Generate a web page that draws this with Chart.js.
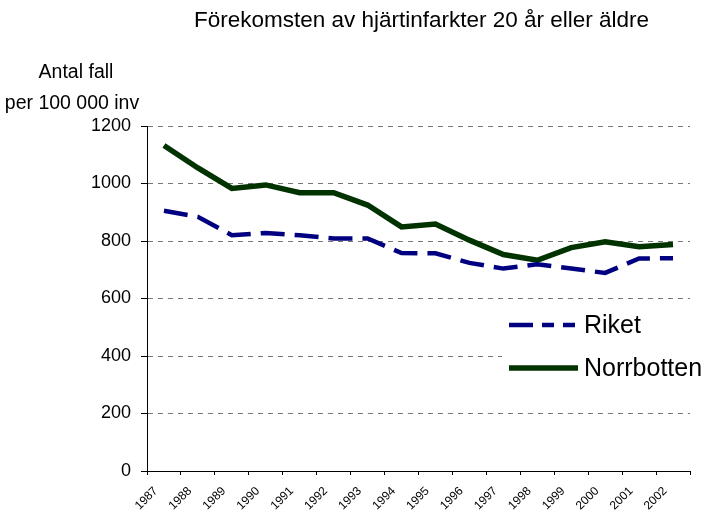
<!DOCTYPE html>
<html>
<head>
<meta charset="utf-8">
<script src="https://cdn.jsdelivr.net/npm/chart.js@4.4.0/dist/chart.umd.min.js"></script>
<style>
  body { margin: 0; background: #fff; }
</style>
</head>
<body>
<canvas id="chart" width="707" height="518"></canvas>
<script>
const years = ["1987", "1988", "1989", "1990", "1991", "1992", "1993", "1994",
  "1995", "1996", "1997", "1998", "1999", "2000", "2001", "2002"];
const riket = [905, 884, 820, 828, 820, 809, 809, 758, 757, 724, 704, 719, 704, 689, 739, 740];
const norrbotten = [1132, 1054, 983, 995, 968, 968, 925, 849, 859, 803, 753, 733, 777, 797, 780, 788];
const yTicks = [0, 200, 400, 600, 800, 1000, 1200];

const FONT = "'Liberation Sans', Arial, sans-serif";

// title, y axis caption and the legend box
const decorations = {
  id: "decorations",
  afterDatasetsDraw(chart) {
    const ctx = chart.ctx;
    const area = chart.chartArea;
    ctx.save();
    ctx.fillStyle = "#000";
    ctx.textBaseline = "middle";
    ctx.textAlign = "center";
    ctx.font = "22.5px " + FONT;
    ctx.fillText("Förekomsten av hjärtinfarkter 20 år eller äldre", (area.left + area.right) / 2 + 3, 21);
    ctx.font = "19.5px " + FONT;
    ctx.fillText("Antal fall", area.left - 71, 73);
    ctx.fillText("per 100 000 inv", area.left - 75, 104);

    // legend
    const lx = 502, ly = 305;
    ctx.fillStyle = "#fff";
    ctx.fillRect(lx, ly, 205, 90);
    const items = chart.data.datasets;
    items.forEach((ds, i) => {
      const y = ly + 20 + i * 43;
      ctx.beginPath();
      ctx.lineWidth = ds.borderWidth;
      ctx.strokeStyle = ds.borderColor;
      ctx.setLineDash(ds.legendDash || []);
      ctx.moveTo(lx + 7, y);
      ctx.lineTo(lx + 76, y);
      ctx.stroke();
      ctx.setLineDash([]);
      ctx.fillStyle = "#000";
      ctx.textAlign = "left";
      ctx.font = "25px " + FONT;
      ctx.fillText(ds.label, lx + 82, y + 1);
    });
    ctx.restore();
  }
};

new Chart(document.getElementById("chart"), {
  type: "line",
  data: {
    labels: years,
    datasets: [
      {
        label: "Riket",
        data: riket,
        borderColor: "#000080",
        borderWidth: 4.5,
        borderDash: [24, 10],
        legendDash: [24, 9, 12, 9, 12, 9],
        pointRadius: 0,
        tension: 0,
        fill: false
      },
      {
        label: "Norrbotten",
        data: norrbotten,
        borderColor: "#003300",
        borderWidth: 5.5,
        pointRadius: 0,
        tension: 0,
        fill: false
      }
    ]
  },
  options: {
    responsive: false,
    animation: false,
    layout: { padding: { top: 126, right: 17, left: 0, bottom: 0 } },
    plugins: {
      legend: { display: false },
      title: { display: false },
      tooltip: { enabled: false }
    },
    scales: {
      x: {
        offset: true,
        grid: { offset: true, drawOnChartArea: false, tickLength: 4, tickColor: "#000" },
        border: { color: "#000", width: 1 },
        ticks: {
          color: "#000",
          font: { family: FONT, size: 12 },
          maxRotation: 45,
          minRotation: 45,
          autoSkip: false,
          labelOffset: -8,
          padding: 9
        },
        afterFit(scale) { scale.height = 47; }
      },
      y: {
        min: 0,
        max: 1200,
        afterBuildTicks(scale) { scale.ticks = yTicks.map((v) => ({ value: v })); },
        grid: {
          color: (c) => (c.tick && c.tick.value === 0 ? "rgba(0,0,0,0)" : "#777"),
          tickColor: "#000",
          tickLength: 6,
          tickBorderDash: []
        },
        border: { color: "#000", width: 1, dash: [5, 5] },
        ticks: {
          color: "#000",
          font: { family: FONT, size: 18 },
          padding: 10,
          callback: (v) => String(v)
        },
        afterFit(scale) { scale.width = 147; }
      }
    }
  },
  plugins: [decorations]
});
</script>
</body>
</html>
